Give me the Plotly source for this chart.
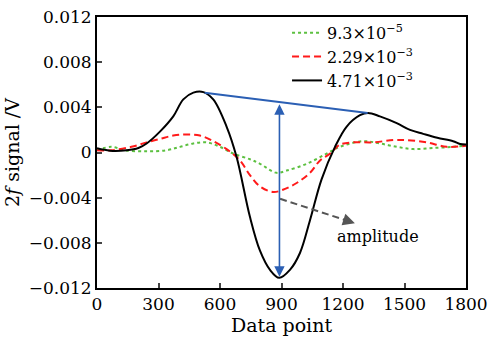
import plotly.graph_objects as go

# ---- data ----
x_green = [0, 70, 135, 242, 340, 405, 470, 535, 600, 665, 746, 795, 876, 925, 1023, 1120, 1185, 1299, 1380, 1462, 1543, 1641, 1737, 1800]
y_green = [0.0002, 0.0005, 0.0002, 0.0001, 0.0002, 0.0005, 0.0008, 0.0009, 0.0005, -0.0001, -0.0006, -0.0010, -0.0018, -0.0016, -0.0010, -0.0001, 0.0005, 0.0010, 0.0008, 0.0005, 0.0003, 0.0004, 0.0005, 0.0006]

x_red = [0, 70, 168, 242, 307, 372, 437, 502, 567, 632, 697, 746, 795, 859, 907, 974, 1039, 1088, 1137, 1185, 1250, 1348, 1445, 1510, 1608, 1706, 1800]
y_red = [0.0002, 0.0002, 0.0005, 0.0009, 0.0012, 0.0015, 0.0016, 0.0015, 0.0010, 0.0003, -0.0007, -0.0020, -0.0030, -0.0035, -0.0033, -0.0027, -0.0018, -0.0007, -0.0001, 0.0007, 0.0009, 0.0009, 0.0011, 0.0011, 0.0009, 0.0005, 0.0006]

x_black = [0, 63, 145, 202, 242, 307, 372, 421, 470, 519, 567, 632, 681, 746, 795, 844, 889, 941, 990, 1039, 1095, 1161, 1218, 1283, 1322, 1380, 1462, 1527, 1591, 1660, 1737, 1771, 1800]
y_black = [0.00037, 0.00016, 0.0002, 0.0004, 0.0008, 0.00185, 0.0032, 0.0047, 0.0053, 0.00535, 0.0047, 0.0023, -0.0004, -0.0057, -0.0087, -0.0104, -0.0111, -0.0104, -0.0089, -0.0060, -0.0024, 0.0005, 0.0023, 0.0033, 0.0035, 0.0032, 0.0026, 0.0020, 0.00165, 0.0013, 0.0010, 0.00075, 0.0007]

series_names = ["9.3×10<sup>−5</sup>", "2.29×10<sup>−3</sup>", "4.71×10<sup>−3</sup>"]

x_ticks = [0, 300, 600, 900, 1200, 1500, 1800]
y_ticks = [-0.012, -0.008, -0.004, 0, 0.004, 0.008, 0.012]
y_tick_labels = ["−0.012", "−0.008", "−0.004", "0", "0.004", "0.008", "0.012"]

# annotation geometry
envelope_x = [525, 1320]
envelope_y = [0.0053, 0.0035]
amp_x = 890
amp_top, amp_bottom = 0.0044, -0.0110
pointer_start = (893, -0.0041)
pointer_end = (1258, -0.00627)
label_pos = (1370, -0.0074)

FONT = "DejaVu Serif"
fig = go.Figure()
fig.add_trace(go.Scatter(x=x_green, y=y_green, mode="lines", name=series_names[0],
                         line=dict(color="#5cc040", width=2, dash="dot", shape="spline")))
fig.add_trace(go.Scatter(x=x_red, y=y_red, mode="lines", name=series_names[1],
                         line=dict(color="#ff1a1a", width=2, dash="7px,4px", shape="spline")))
fig.add_trace(go.Scatter(x=x_black, y=y_black, mode="lines", name=series_names[2],
                         line=dict(color="black", width=2, shape="spline")))

# blue envelope line
fig.add_shape(type="line", x0=envelope_x[0], y0=envelope_y[0], x1=envelope_x[1], y1=envelope_y[1],
              line=dict(color="#2b5fb4", width=2), xref="x", yref="y")
# double-headed amplitude arrow
fig.add_annotation(x=amp_x, y=amp_bottom, ax=amp_x, ay=amp_top, xref="x", yref="y",
                   axref="x", ayref="y", showarrow=True, arrowhead=2, arrowside="end+start",
                   arrowsize=1.3, arrowwidth=1.6, arrowcolor="#2b5fb4", text="")
# dashed grey pointer
fig.add_shape(type="line", x0=pointer_start[0], y0=pointer_start[1],
              x1=pointer_end[0] - 50, y1=pointer_end[1] + 0.0003,
              line=dict(color="#555555", width=2, dash="7px,4px"), xref="x", yref="y")
fig.add_annotation(x=pointer_end[0], y=pointer_end[1], ax=pointer_end[0] - 60, ay=pointer_end[1] + 0.00036,
                   xref="x", yref="y", axref="x", ayref="y", showarrow=True, arrowhead=2,
                   arrowsize=1.2, arrowwidth=2, arrowcolor="#555555", text="")
fig.add_annotation(x=label_pos[0], y=label_pos[1], xref="x", yref="y", text="amplitude",
                   showarrow=False, font=dict(family=FONT, size=16, color="black"))

fig.update_layout(
    width=488, height=342,
    margin=dict(l=97, r=22, t=17, b=54),
    paper_bgcolor="white", plot_bgcolor="white",
    font=dict(family=FONT, size=16, color="black"),
    showlegend=True,
    legend=dict(x=0.515, y=1.004, xanchor="left", yanchor="top", bgcolor="rgba(0,0,0,0)",
                font=dict(family=FONT, size=16), tracegroupgap=0, itemwidth=30),
)
fig.update_xaxes(range=[0, 1800], tickvals=x_ticks, ticks="inside", ticklen=5, tickwidth=1.5,
                 showline=True, linewidth=2, linecolor="black", mirror=True, showgrid=False,
                 zeroline=False, automargin=False, title=dict(text="Data point", standoff=2),
                 tickfont=dict(family=FONT, size=17))
fig.update_yaxes(range=[-0.012, 0.012], tickvals=y_ticks, ticktext=y_tick_labels, ticks="inside",
                 ticklen=5, tickwidth=1.5, showline=True, linewidth=2, linecolor="black", mirror=True,
                 showgrid=False, zeroline=False, automargin=False,
                 title=dict(text="2<i>f</i> signal /V", standoff=4),
                 tickfont=dict(family=FONT, size=17))

fig.write_html("out.html")
